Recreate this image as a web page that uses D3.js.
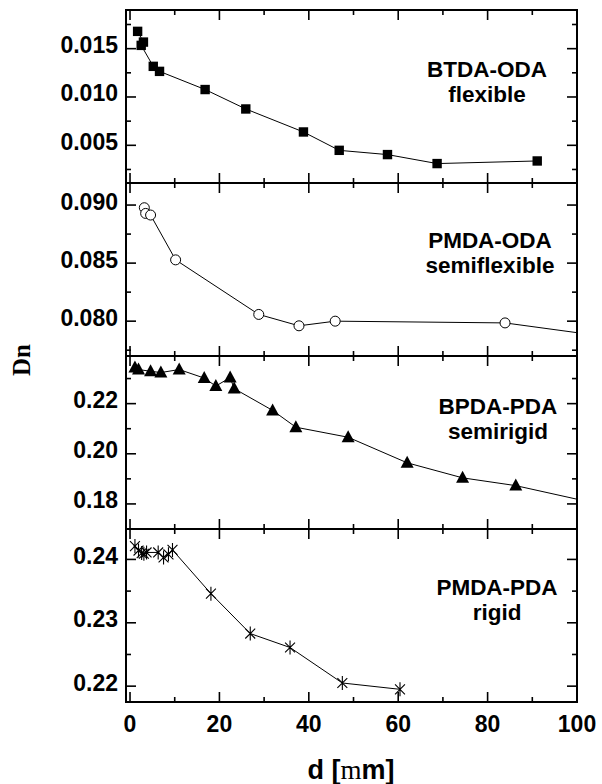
<!DOCTYPE html>
<html>
<head>
<meta charset="utf-8">
<script src="https://cdn.jsdelivr.net/npm/d3@7"></script>
<style>
  html, body { margin: 0; padding: 0; background: #fff; }
  svg { display: block; }
  .tick-label { font-family: "Liberation Sans", Arial, sans-serif; font-weight: bold; font-size: 23px; fill: #000; }
  .note { font-family: "Liberation Sans", Arial, sans-serif; font-weight: bold; font-size: 22.5px; fill: #000; }
</style>
</head>
<body>
<svg id="chart" width="602" height="784"></svg>
<script>
// Birefringence Dn vs film thickness d for four polyimides
const dBTDA  = [1.7, 3.0, 2.5, 5.2, 6.6, 16.8, 25.9, 38.8, 46.8, 57.6, 68.7, 91.1];
const dnBTDA = [0.01679, 0.01568, 0.01534, 0.01317, 0.01265, 0.01077, 0.00876, 0.00638, 0.00448, 0.00404, 0.00311, 0.00338];

const dPMDAODA  = [3.2, 3.5, 4.6, 10.2, 28.8, 37.8, 45.9, 83.9, 104];
const dnPMDAODA = [0.08977, 0.08928, 0.08914, 0.08528, 0.08058, 0.07960, 0.08000, 0.07985, 0.07880];

const dBPDA  = [1.1, 1.9, 4.6, 6.9, 11.0, 16.6, 19.2, 22.4, 23.3, 31.9, 37.1, 48.8, 62.0, 74.4, 86.3, 104];
const dnBPDA = [0.2344, 0.2336, 0.2329, 0.2324, 0.2336, 0.2302, 0.2270, 0.2304, 0.2260, 0.2173, 0.2106, 0.2066, 0.1964, 0.1904, 0.1873, 0.1803];

const dPMDAPDA  = [1.1, 1.9, 2.6, 3.1, 3.7, 6.3, 7.5, 8.6, 9.5, 18.1, 26.9, 35.8, 47.5, 60.4];
const dnPMDAPDA = [0.2421, 0.2414, 0.2410, 0.2409, 0.2411, 0.2411, 0.2403, 0.2408, 0.2415, 0.2346, 0.2283, 0.2261, 0.2205, 0.2195];

const xMajor = [0, 20, 40, 60, 80, 100];
const xMinor = [10, 30, 50, 70, 90];
const xTickLabels = ["0", "20", "40", "60", "80", "100"];

const labelsBTDA = ["BTDA-ODA", "flexible"];
const labelsPMDAODA = ["PMDA-ODA", "semiflexible"];
const labelsBPDA = ["BPDA-PDA", "semirigid"];
const labelsPMDAPDA = ["PMDA-PDA", "rigid"];

const yMajorBTDA = [0.005, 0.010, 0.015], yMinorBTDA = [0.0025, 0.0075, 0.0125, 0.0175];
const yMajorPMDAODA = [0.080, 0.085, 0.090], yMinorPMDAODA = [0.0775, 0.0825, 0.0875];
const yMajorBPDA = [0.18, 0.20, 0.22], yMinorBPDA = [0.19, 0.21, 0.23];
const yMajorPMDAPDA = [0.22, 0.23, 0.24], yMinorPMDAPDA = [0.225, 0.235];

const svg = d3.select("#chart");
const left = 126, right = 577;
const x = d3.scaleLinear().domain([-0.9, 100]).range([left, right]);

const panels = [
  { top: 10,  bottom: 183, domain: [0.0011, 0.0190], xs: dBTDA, ys: dnBTDA, marker: "square",
    major: yMajorBTDA, minor: yMinorBTDA, fmt: d3.format(".3f"), text: labelsBTDA, tx: 487, ty: 76.5 },
  { top: 183, bottom: 356, domain: [0.0770, 0.0919], xs: dPMDAODA, ys: dnPMDAODA, marker: "circle",
    major: yMajorPMDAODA, minor: yMinorPMDAODA, fmt: d3.format(".3f"), text: labelsPMDAODA, tx: 490, ty: 247.5 },
  { top: 356, bottom: 529, domain: [0.1700, 0.2390], xs: dBPDA, ys: dnBPDA, marker: "triangle",
    major: yMajorBPDA, minor: yMinorBPDA, fmt: d3.format(".2f"), text: labelsBPDA, tx: 498, ty: 414 },
  { top: 529, bottom: 702, domain: [0.2175, 0.2448], xs: dPMDAPDA, ys: dnPMDAPDA, marker: "star",
    major: yMajorPMDAPDA, minor: yMinorPMDAPDA, fmt: d3.format(".2f"), text: labelsPMDAPDA, tx: 497, ty: 595 }
];

panels.forEach((p, i) => {
  const y = d3.scaleLinear().domain(p.domain).range([p.bottom, p.top]);
  const g = svg.append("g");
  const clipId = "clip" + i;
  svg.append("clipPath").attr("id", clipId)
    .append("rect").attr("x", left).attr("y", p.top).attr("width", right - left).attr("height", p.bottom - p.top);

  // connecting line
  const pts = p.xs.map((v, k) => [v, p.ys[k]]);
  g.append("path")
    .attr("clip-path", `url(#${clipId})`)
    .attr("d", d3.line().x(d => x(d[0])).y(d => y(d[1]))(pts))
    .attr("fill", "none").attr("stroke", "#000").attr("stroke-width", 1);

  // markers
  const shown = pts.filter(d => d[0] <= 100);
  const mg = g.append("g");
  shown.forEach(d => {
    const cx = x(d[0]), cy = y(d[1]);
    if (p.marker === "square") {
      mg.append("rect").attr("x", cx - 4.7).attr("y", cy - 4.7).attr("width", 9.4).attr("height", 9.4).attr("fill", "#000");
    } else if (p.marker === "circle") {
      mg.append("circle").attr("cx", cx).attr("cy", cy).attr("r", 5).attr("fill", "#fff").attr("stroke", "#000").attr("stroke-width", 1);
    } else if (p.marker === "triangle") {
      mg.append("path").attr("d", `M${cx},${cy - 7} L${cx + 6.5},${cy + 5} L${cx - 6.5},${cy + 5} Z`).attr("fill", "#000");
    } else {
      const r = 7, a = r * Math.SQRT1_2;
      mg.append("path")
        .attr("d", `M${cx},${cy - r}L${cx},${cy + r}M${cx - a},${cy - a}L${cx + a},${cy + a}M${cx - a},${cy + a}L${cx + a},${cy - a}`)
        .attr("stroke", "#000").attr("stroke-width", 1.1).attr("fill", "none");
    }
  });

  // frame
  g.append("rect").attr("x", left).attr("y", p.top).attr("width", right - left).attr("height", p.bottom - p.top)
    .attr("fill", "none").attr("stroke", "#000").attr("stroke-width", 2);

  // x ticks, inward on top and bottom edges
  const tickG = g.append("g").attr("stroke", "#000").attr("stroke-width", 1.6);
  xMajor.concat(xMinor).forEach(v => {
    const len = xMajor.includes(v) ? 10 : 5;
    tickG.append("line").attr("x1", x(v)).attr("x2", x(v)).attr("y1", p.top).attr("y2", p.top + len);
    tickG.append("line").attr("x1", x(v)).attr("x2", x(v)).attr("y1", p.bottom).attr("y2", p.bottom - len);
  });
  // y ticks, inward on left and right edges
  p.major.concat(p.minor).forEach(v => {
    const len = p.major.includes(v) ? 10 : 5;
    tickG.append("line").attr("x1", left).attr("x2", left + len).attr("y1", y(v)).attr("y2", y(v));
    tickG.append("line").attr("x1", right).attr("x2", right - len).attr("y1", y(v)).attr("y2", y(v));
  });

  // y tick labels
  p.major.forEach(v => {
    g.append("text").attr("class", "tick-label").attr("text-anchor", "end")
      .attr("x", 118).attr("y", y(v) + 4.5).text(p.fmt(v));
  });

  // polymer name and chain type
  p.text.forEach((t, k) => {
    g.append("text").attr("class", "note").attr("text-anchor", "middle")
      .attr("x", p.tx).attr("y", p.ty + k * 25).text(t);
  });
});

// x tick labels on the bottom panel
xMajor.forEach((v, k) => {
  svg.append("text").attr("class", "tick-label").attr("text-anchor", "middle")
    .attr("x", x(v)).attr("y", 732).text(xTickLabels[k]);
});

// axis titles
svg.append("text")
  .attr("transform", "translate(30,360) rotate(-90)")
  .attr("text-anchor", "middle")
  .style("font-family", "'Liberation Serif', 'Times New Roman', serif")
  .style("font-weight", "bold").style("font-size", "25px")
  .text("Dn");

const xt = svg.append("text").attr("x", 351).attr("y", 779).attr("text-anchor", "middle")
  .style("font-family", "'Liberation Sans', Arial, sans-serif").style("font-weight", "bold").style("font-size", "27px");
xt.append("tspan").text("d [");
xt.append("tspan").style("font-family", "'Liberation Serif', 'Times New Roman', serif").style("font-weight", "normal").text("m");
xt.append("tspan").text("m]");
</script>
</body>
</html>
